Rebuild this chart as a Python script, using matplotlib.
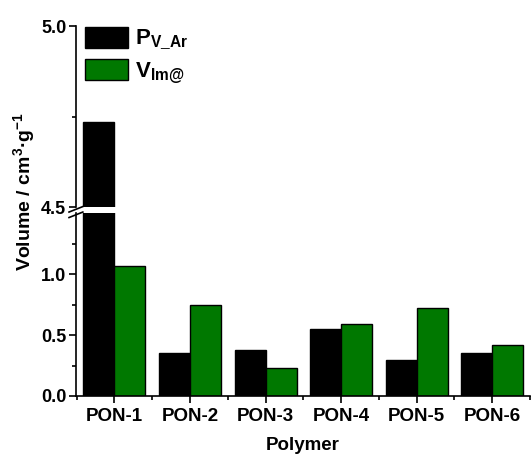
import matplotlib
matplotlib.use("Agg")
import matplotlib.pyplot as plt
import numpy as np
from matplotlib.patches import Rectangle
from matplotlib.lines import Line2D

plt.rcParams['font.family'] = ['Liberation Sans', 'DejaVu Sans']
plt.rcParams['font.weight'] = 'bold'
plt.rcParams['mathtext.default'] = 'regular'

polymers = ["PON-1", "PON-2", "PON-3", "PON-4", "PON-5", "PON-6"]
p_v_ar = [4.735, 0.35, 0.375, 0.55, 0.295, 0.35]
v_im = [1.065, 0.745, 0.23, 0.59, 0.72, 0.42]

black = "#000000"
green = "#007800"
width = 0.41

fig = plt.figure(figsize=(5.31, 4.57), dpi=100)
left, axw = 0.143, 0.855
ax_top = fig.add_axes([left, 0.547, axw, 0.396])
ax_bot = fig.add_axes([left, 0.1335, axw, 0.40])

x = np.arange(1, len(polymers) + 1)
for ax in (ax_top, ax_bot):
    ax.bar(x - width / 2, p_v_ar, width, color=black, edgecolor="black",
           linewidth=1.0)
    ax.bar(x + width / 2, v_im, width, color=green, edgecolor="black",
           linewidth=1.0)
    ax.set_xlim(0.49, 6.5)
    ax.spines['top'].set_visible(False)
    ax.spines['right'].set_visible(False)
    ax.spines['left'].set_linewidth(1.2)
    ax.spines['bottom'].set_linewidth(1.2)
    ax.tick_params(axis='y', which='major', direction='out', length=5,
                   width=1.2, labelsize=13, pad=2)
    ax.tick_params(axis='y', which='minor', direction='out', length=3,
                   width=1.2)

# upper panel: 4.5 to 5.0
ax_top.set_ylim(4.5, 5.0)
ax_top.set_yticks([4.5, 5.0])
ax_top.set_yticklabels(["4.5", "5.0"])
ax_top.set_yticks([4.75], minor=True)
ax_top.spines['bottom'].set_visible(False)
ax_top.set_xticks([])

# lower panel: 0 to 1.5
ax_bot.set_ylim(0, 1.5)
ax_bot.set_yticks([0.0, 0.5, 1.0])
ax_bot.set_yticklabels(["0.0", "0.5", "1.0"])
ax_bot.set_yticks([0.25, 0.75, 1.25], minor=True)
ax_bot.set_xticks(x)
ax_bot.set_xticklabels(polymers)
ax_bot.set_xticks(np.arange(0.5, 7.0, 1.0), minor=True)
ax_bot.tick_params(axis='x', which='major', direction='out', length=5,
                   width=1.2, labelsize=13.5, pad=4)
ax_bot.tick_params(axis='x', which='minor', direction='out', length=3,
                   width=1.2)

# axis break marks
bx = left
for yb in (0.542, 0.530):
    fig.add_artist(Line2D([bx - 0.013, bx + 0.013], [yb - 0.006, yb + 0.006],
                          transform=fig.transFigure, color="black", lw=1.2))

handles = [Rectangle((0, 0), 1, 1, facecolor=black, edgecolor="black"),
           Rectangle((0, 0), 1, 1, facecolor=green, edgecolor="black")]
labels = [r"P$_{V\_Ar}$", r"V$_{Im@}$"]
fig.legend(handles, labels, loc="upper left", frameon=False,
           fontsize=16, handlelength=1.95, handleheight=1.1,
           handletextpad=0.3, labelspacing=0.3,
           bbox_to_anchor=(0.160, 0.942), borderaxespad=0, borderpad=0)

fig.text(0.045, 0.58, "Volume / cm$^{3}$\u00b7g$^{-1}$", rotation=90,
         ha="center", va="center", fontsize=14, fontweight="bold")
fig.text(left + axw / 2, 0.026, "Polymer", ha="center", va="center",
         fontsize=13.5, fontweight="bold")

fig.savefig("out.png", dpi=100)
